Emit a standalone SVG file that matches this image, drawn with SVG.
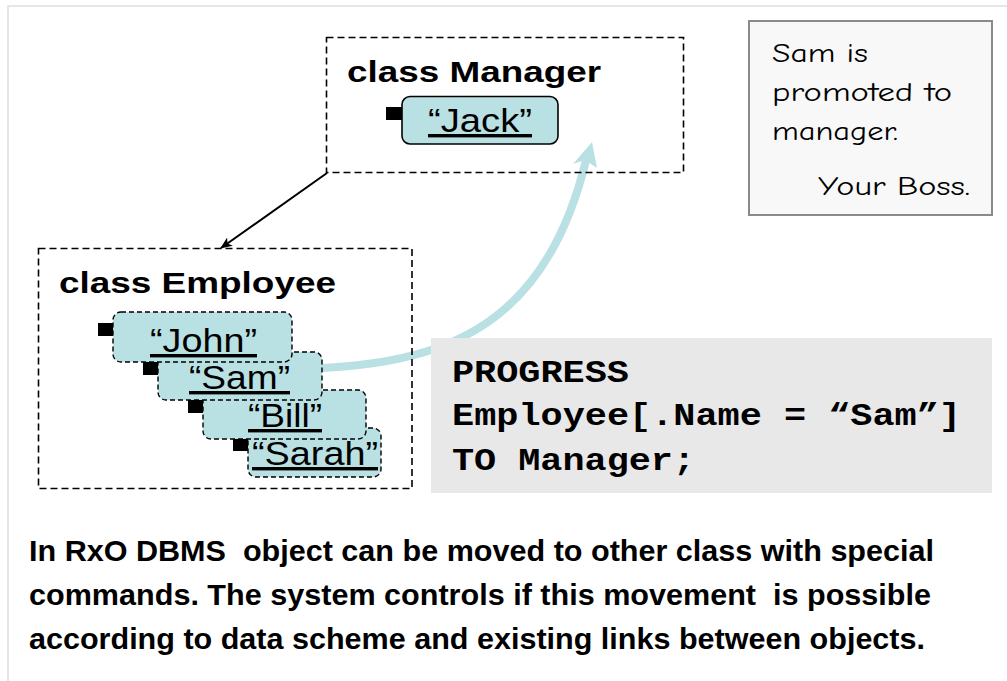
<svg xmlns="http://www.w3.org/2000/svg" width="1007" height="681" viewBox="0 0 1007 681">
<style>
.cls{fill:none;stroke:#000;stroke-width:1.6;stroke-dasharray:7 4}
.title{font-family:"Liberation Sans",Arial,sans-serif;font-weight:bold;font-size:29px;fill:#000}
.obj{fill:#b9e0e3;stroke:#000;stroke-width:1.4;stroke-dasharray:5 3}
.objs{fill:#b9e0e3;stroke:#000;stroke-width:1.6}
.name{font-family:"Liberation Sans",Arial,sans-serif;font-size:34px;fill:#000;text-decoration:underline}
.code{font-family:"Liberation Mono","Courier New",monospace;font-weight:bold;font-size:31px;fill:#000}
.note{font-family:"Comic Neue","DejaVu Sans",sans-serif;font-size:26px;fill:#000}
.body{font-family:"Liberation Sans",Arial,sans-serif;font-weight:bold;font-size:30px;fill:#000;white-space:pre}
</style>
<defs>
<marker id="ah" markerWidth="12" markerHeight="10" refX="11" refY="5" orient="auto" markerUnits="userSpaceOnUse" viewBox="0 0 12 10">
<path d="M0,0 L12,5 L0,10 L3,5 Z" fill="#000"/>
</marker>
</defs>
<rect x="0" y="0" width="1007" height="681" fill="#fff"/>
<rect x="8" y="6" width="1010" height="690" fill="none" stroke="#e6e6e6" stroke-width="2"/>

<g id="connectors">
<line x1="327" y1="173" x2="221" y2="248" stroke="#000" stroke-width="2" marker-end="url(#ah)"/>
<path d="M321,368 C455,362 548,318 586,160" fill="none" stroke="#b9e0e3" stroke-width="8"/>
<polygon points="592,142 573,164 585,160 597,168" fill="#b9e0e3"/>
</g>

<g id="manager">
<rect class="cls" x="326.5" y="37.5" width="357" height="135"/>
<text class="title" x="347" y="82" textLength="254" lengthAdjust="spacingAndGlyphs">class Manager</text>
</g>
<g id="jack">
<rect x="386" y="107" width="16" height="13" fill="#000"/>
<rect class="objs" x="402" y="96.5" width="156" height="47.5" rx="8"/>
<text class="name" x="428" y="132" textLength="104" lengthAdjust="spacingAndGlyphs">“Jack”</text>
</g>

<g id="employee">
<rect class="cls" x="38.5" y="248.5" width="373.5" height="240"/>
<text class="title" x="59" y="293" textLength="277" lengthAdjust="spacingAndGlyphs">class Employee</text>
</g>
<g id="sarah">
<rect x="233" y="438" width="15" height="13" fill="#000"/>
<rect class="obj" x="248" y="428" width="133" height="49" rx="8"/>
<text class="name" x="252" y="465" textLength="126" lengthAdjust="spacingAndGlyphs">“Sarah”</text>
</g>
<g id="bill">
<rect x="188" y="400" width="15" height="13" fill="#000"/>
<rect class="obj" x="203" y="390" width="163" height="49" rx="8"/>
<text class="name" x="248" y="427" textLength="74" lengthAdjust="spacingAndGlyphs">“Bill”</text>
</g>
<g id="sam">
<rect x="143" y="362" width="15" height="13" fill="#000"/>
<rect class="obj" x="158" y="352" width="164" height="48" rx="8"/>
<text class="name" x="189" y="389" textLength="101" lengthAdjust="spacingAndGlyphs">“Sam”</text>
</g>
<g id="john">
<rect x="98" y="323" width="15" height="13" fill="#000"/>
<rect class="obj" x="113" y="312" width="179" height="50" rx="8"/>
<text class="name" x="150" y="352" textLength="107" lengthAdjust="spacingAndGlyphs">“John”</text>
</g>

<g id="note">
<rect x="749" y="21" width="243" height="194" fill="#f8f8f8" stroke="#8a8a8a" stroke-width="2"/>
<text class="note" x="772" y="62" textLength="96" lengthAdjust="spacingAndGlyphs">Sam is</text>
<text class="note" x="772" y="101" textLength="180" lengthAdjust="spacingAndGlyphs">promoted to</text>
<text class="note" x="772" y="140" textLength="126" lengthAdjust="spacingAndGlyphs">manager.</text>
<text class="note" x="818" y="195" textLength="152" lengthAdjust="spacingAndGlyphs">Your Boss.</text>
</g>

<g id="code">
<rect x="431" y="338" width="561" height="155" fill="#e8e8e8"/>
<text class="code" x="452" y="382" textLength="177" lengthAdjust="spacingAndGlyphs">PROGRESS</text>
<text class="code" x="452" y="425" textLength="509" lengthAdjust="spacingAndGlyphs">Employee[.Name = “Sam”]</text>
<text class="code" x="452" y="470" textLength="243" lengthAdjust="spacingAndGlyphs">TO Manager;</text>
</g>

<g id="caption">
<text class="body" x="29" y="561" textLength="905" lengthAdjust="spacingAndGlyphs" xml:space="preserve">In RxO DBMS  object can be moved to other class with special</text>
<text class="body" x="29" y="605" textLength="902" lengthAdjust="spacingAndGlyphs" xml:space="preserve">commands. The system controls if this movement  is possible</text>
<text class="body" x="29" y="649" textLength="896" lengthAdjust="spacingAndGlyphs">according to data scheme and existing links between objects.</text>
</g>
</svg>
